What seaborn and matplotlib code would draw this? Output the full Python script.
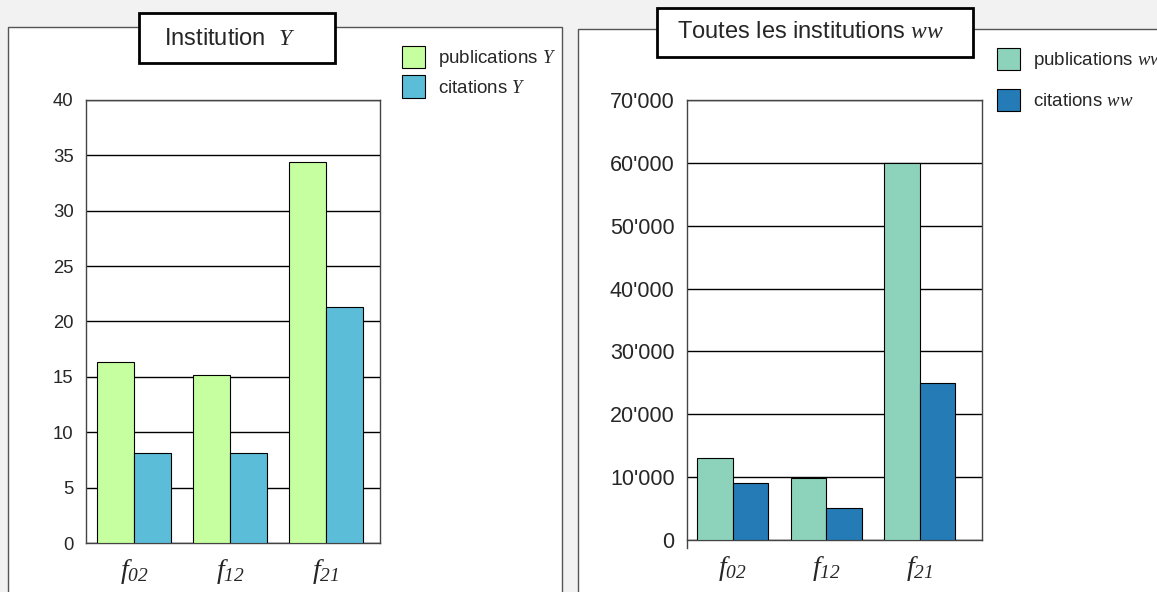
import numpy as np
import pandas as pd
import matplotlib
matplotlib.use('Agg')
import matplotlib.pyplot as plt
from matplotlib.patches import Rectangle
import seaborn as sns

# data
categories = [r'$f_{02}$', r'$f_{12}$', r'$f_{21}$']
pub_y = [16.3, 15.2, 34.4]
cit_y = [8.1, 8.1, 21.3]
pub_ww = [13100, 9900, 60000]
cit_ww = [9000, 5100, 25000]
ticks_y = [0, 5, 10, 15, 20, 25, 30, 35, 40]
ticks_ww = [0, 10000, 20000, 30000, 40000, 50000, 60000, 70000]
ticklabels_ww = ['0', "10'000", "20'000", "30'000", "40'000", "50'000", "60'000", "70'000"]

sns.set_style('white')
plt.rcParams['font.family'] = ['Liberation Sans', 'DejaVu Sans']
# serif italic for everything in math (digits of the subscripts too)
plt.rcParams['mathtext.fontset'] = 'custom'
plt.rcParams['mathtext.rm'] = 'Liberation Serif:italic'
plt.rcParams['mathtext.it'] = 'Liberation Serif:italic'

fig = plt.figure(figsize=(11.57, 5.92), dpi=100)
fig.patch.set_facecolor('#f2f2f2')

W, H = 1157, 592
def fx(px):
    return px / W
def fy(py):
    return 1 - py / H

# white panels
fig.patches.append(Rectangle((fx(8), -0.02), fx(562) - fx(8), fy(27) + 0.02,
                             transform=fig.transFigure, facecolor='white',
                             edgecolor='#555555', lw=1, zorder=0))
fig.patches.append(Rectangle((fx(578), -0.02), fx(1165) - fx(578), fy(29) + 0.02,
                             transform=fig.transFigure, facecolor='white',
                             edgecolor='#555555', lw=1, zorder=0))

# title boxes
fig.patches.append(Rectangle((fx(139), fy(63)), fx(335) - fx(139), fy(13) - fy(63),
                             transform=fig.transFigure, facecolor='white',
                             edgecolor='black', lw=2, zorder=1))
fig.text(fx(230), fy(39), r'Institution  $Y$', ha='center', va='center', fontsize=17)
fig.patches.append(Rectangle((fx(657), fy(57)), fx(973) - fx(657), fy(8) - fy(57),
                             transform=fig.transFigure, facecolor='white',
                             edgecolor='black', lw=2, zorder=1))
fig.text(fx(811), fy(32), r'Toutes les institutions $ww$', ha='center', va='center', fontsize=17)


def draw(ax, pub, cit, lab_pub, lab_cit, colors, width):
    df = pd.DataFrame({
        'cat': categories * 2,
        'val': pub + cit,
        'serie': [lab_pub] * 3 + [lab_cit] * 3,
    })
    sns.barplot(data=df, x='cat', y='val', hue='serie', palette=colors, saturation=1,
                edgecolor='black', linewidth=0.8, width=width, ax=ax, zorder=3)
    ax.set_zorder(5)
    ax.set_facecolor('white')
    ax.set_xlabel('')
    ax.set_ylabel('')
    ax.grid(axis='y', color='black', lw=1, zorder=0)
    ax.set_axisbelow(True)
    for s in ax.spines.values():
        s.set_visible(True)
        s.set_color('#444444')
        s.set_linewidth(1)
    ax.tick_params(axis='x', length=0, labelsize=20, pad=10)
    ax.tick_params(axis='y', length=5, width=1, color='#444444', labelsize=13.3, pad=4)


ax1 = fig.add_axes([fx(86), fy(543), fx(380) - fx(86), fy(100) - fy(543)])
draw(ax1, pub_y, cit_y, r'publications $Y$', r'citations $Y$', ['#c6ffa0', '#5bbdd8'], 0.77)
ax1.set_ylim(0, 40)
ax1.set_yticks(ticks_y)
ax1.set_xlim(-0.5, 2.5625)
ax1.legend(loc='upper left', bbox_to_anchor=(fx(394), fy(38)), bbox_transform=fig.transFigure,
           frameon=False, fontsize=13.5, handlelength=1.25, handleheight=1.45,
           labelspacing=0.35, handletextpad=0.7, borderaxespad=0)

ax2 = fig.add_axes([fx(687), fy(540), fx(982) - fx(687), fy(100) - fy(540)])
draw(ax2, pub_ww, cit_ww, r'publications $ww$', r'citations $ww$', ['#8dd3bb', '#257bb5'], 0.76)
ax2.set_ylim(0, 70000)
ax2.set_yticks(ticks_ww)
ax2.set_yticklabels(ticklabels_ww)
ax2.tick_params(axis='y', labelsize=15.5)
ax2.set_xlim(-0.49, 2.665)
ax2.spines['left'].set_bounds(-1300, 70000)
ax2.legend(loc='upper left', bbox_to_anchor=(fx(989), fy(40)), bbox_transform=fig.transFigure,
           frameon=False, fontsize=13.5, handlelength=1.25, handleheight=1.45,
           labelspacing=0.95, handletextpad=0.7, borderaxespad=0)

fig.savefig('out.png', dpi=100, facecolor=fig.get_facecolor())
